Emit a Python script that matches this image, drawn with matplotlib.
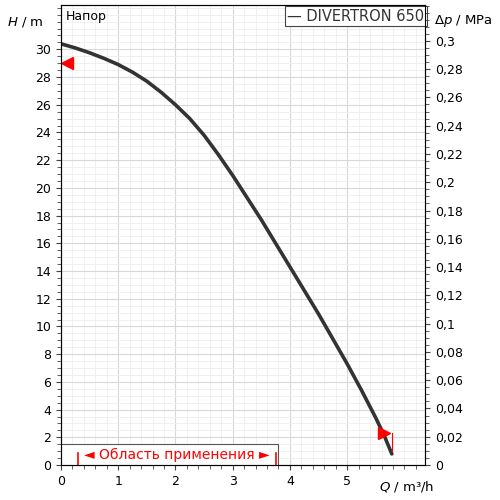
import numpy as np
import matplotlib
matplotlib.use('Agg')
import matplotlib.pyplot as plt
from matplotlib.ticker import MultipleLocator, FuncFormatter, FixedLocator

# pump curve
flow = [0.0, 0.25, 0.5, 0.75, 1.0, 1.25, 1.5, 1.75, 2.0, 2.25, 2.5, 2.75, 3.0,
        3.25, 3.5, 3.75, 4.0, 4.25, 4.5, 4.75, 5.0, 5.25, 5.5, 5.65, 5.78]
head = [30.4, 30.1, 29.75, 29.35, 28.9, 28.35, 27.7, 26.9, 26.0, 25.0, 23.8, 22.4, 20.9,
        19.3, 17.7, 16.0, 14.3, 12.6, 10.9, 9.1, 7.3, 5.4, 3.4, 2.1, 0.8]
range_q = [0.3, 3.75]
H_TO_MPA = 0.0098

fig = plt.figure(figsize=(5, 5), dpi=100)
ax = fig.add_axes([0.122, 0.07, 0.728, 0.92])
ax.set_xlim(0, 6.36)
ax.set_ylim(0, 33.2)

ax.xaxis.set_major_locator(FixedLocator(range(6)))
ax.xaxis.set_minor_locator(MultipleLocator(0.2))
ax.yaxis.set_major_locator(FixedLocator(range(0, 31, 2)))
ax.yaxis.set_minor_locator(MultipleLocator(0.5))
ax.grid(which='major', color='#d8d8d8', lw=0.8)
ax.grid(which='minor', color='#eeeeee', lw=0.6)
ax.tick_params(which='both', direction='out', labelsize=9, colors='#444', labelcolor='black')
ax.tick_params(which='minor', length=3)
for s in ax.spines.values():
    s.set_color('#555')

ax.plot(flow, head, color='#333333', lw=2.6, solid_capstyle='round', zorder=5)

# application range box
ax.add_patch(plt.Rectangle((0, 0), 3.8, 1.5, fill=True, fc='white', ec='#555', lw=0.8, zorder=6))
for q in range_q:
    ax.plot([q, q], [0, 0.9], color='red', lw=1.2, zorder=7)
ax.text(2.02, 0.75, '◄ Область применения ►', color='red', fontsize=10,
        ha='center', va='center', zorder=8)

ax.plot(0.1, 29.0, marker='<', color='red', ms=8, zorder=7)
ax.plot(5.65, 2.3, marker='>', color='red', ms=8, zorder=7)
ax.plot([5.78, 5.78], [1.0, 2.3], color='red', lw=0.8, zorder=7)

ax.text(0.08, 32.4, 'Напор', fontsize=9, va='center')
ax.text(6.35, 32.4, '— DIVERTRON 650', fontsize=10.5, va='center', ha='right', color='#333',
        bbox=dict(fc='white', ec='#444', lw=0.8, pad=2))

ax.text(-0.3, 32.0, r'$H$ / m', fontsize=9.5, ha='right', va='center')
ax.text(6.04, -1.55, r'$Q$ / m³/h', fontsize=9.5, ha='center', va='center')

ax2 = ax.twinx()
ax2.set_ylim(0, 33.2 * H_TO_MPA)
ax2.yaxis.set_major_locator(FixedLocator(np.arange(0, 0.301, 0.02)))
ax2.yaxis.set_minor_locator(MultipleLocator(0.005))
ax2.yaxis.set_major_formatter(FuncFormatter(lambda v, p: ('%g' % round(v, 2)).replace('.', ',')))
ax2.tick_params(which='both', direction='out', labelsize=9, colors='#444', labelcolor='black')
ax2.tick_params(which='minor', length=3)
ax2.text(1.025, 0.965, r'$\Delta p$ / MPa', transform=ax.transAxes, fontsize=9.5, va='center')

fig.savefig('out.png')
